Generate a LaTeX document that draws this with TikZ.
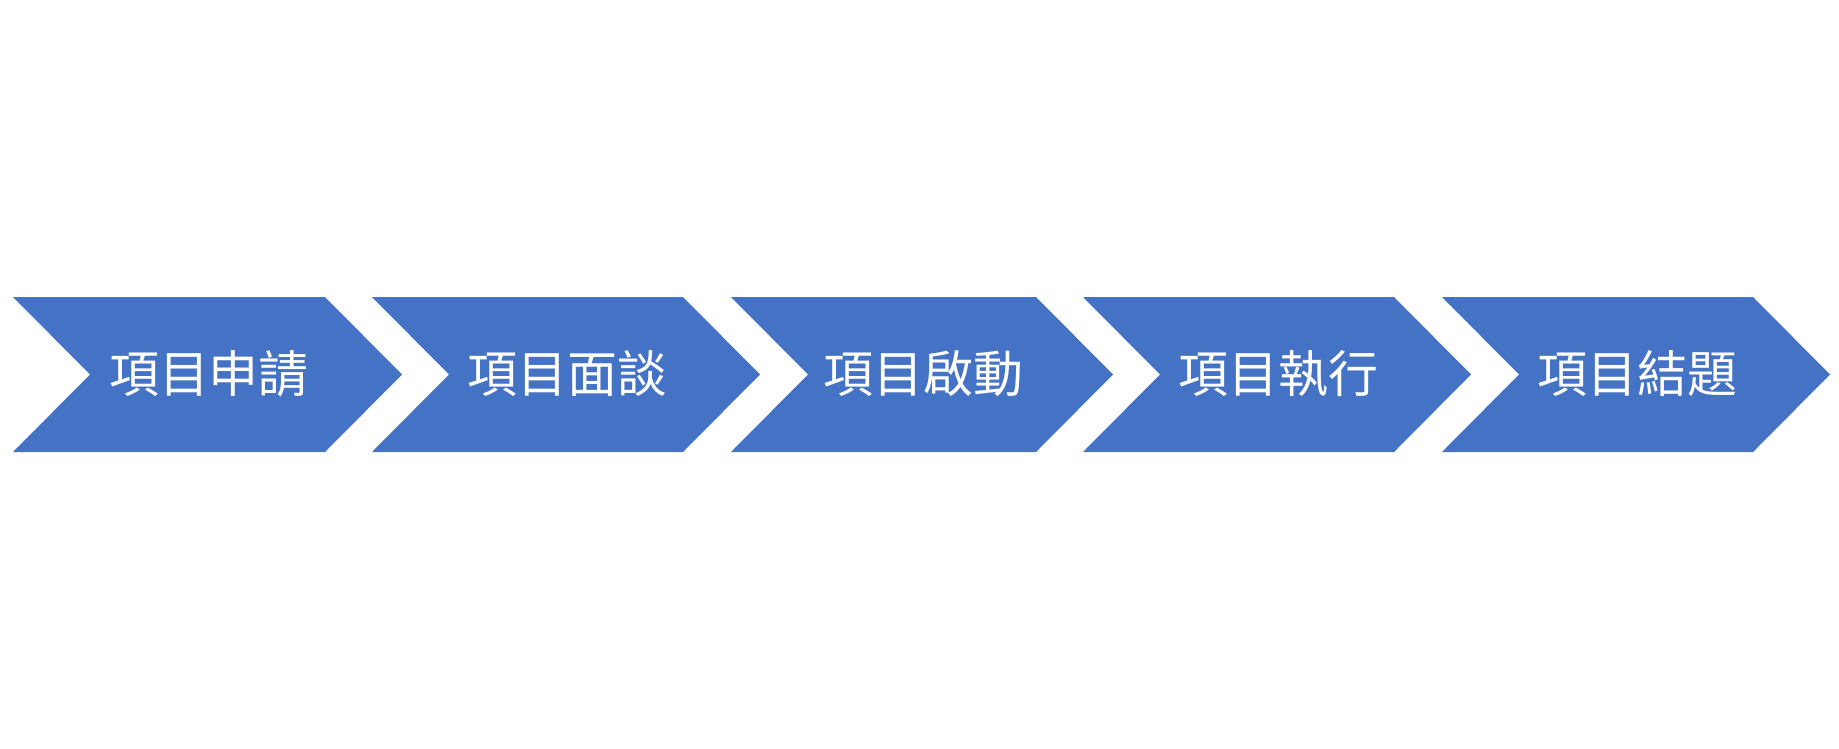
\documentclass[tikz,border=0pt]{standalone}
\usepackage{fontspec}
\usepackage{tikz}
\usetikzlibrary{positioning}
\usepackage{xcolor}
\newfontfamily\cjk{Noto Sans CJK TC}
\definecolor{stageblue}{HTML}{4472C4}
\tikzset{
    stagefill/.style={fill=stageblue, draw=none},
    stagelabel/.style={text=white, font=\cjk\fontsize{14.2}{17}\selectfont, inner sep=0pt}
}

\begin{document}
\begin{tikzpicture}[x=0.01cm, y=-0.01cm]
            \useasboundingbox (0,0) rectangle (1839,748);
            \foreach \xo/\w/\lbl [count=\i] in {13/312/項目申請, 372/311/項目面談, 731/305/項目啟動, 1083/311/項目執行, 1442/311/項目結題} {
                % one chevron per stage
                \fill[stagefill] (\xo,297) -- ++(\w,0) -- ++(77,77.5) -- ++(-77,77.5) -- ++(-\w,0) -- ++(77,-77.5) -- cycle;
                \node[stagelabel] (stage\i) at (\xo+40+\w/2,374) {\lbl};
            }
        \end{tikzpicture}
\end{document}
